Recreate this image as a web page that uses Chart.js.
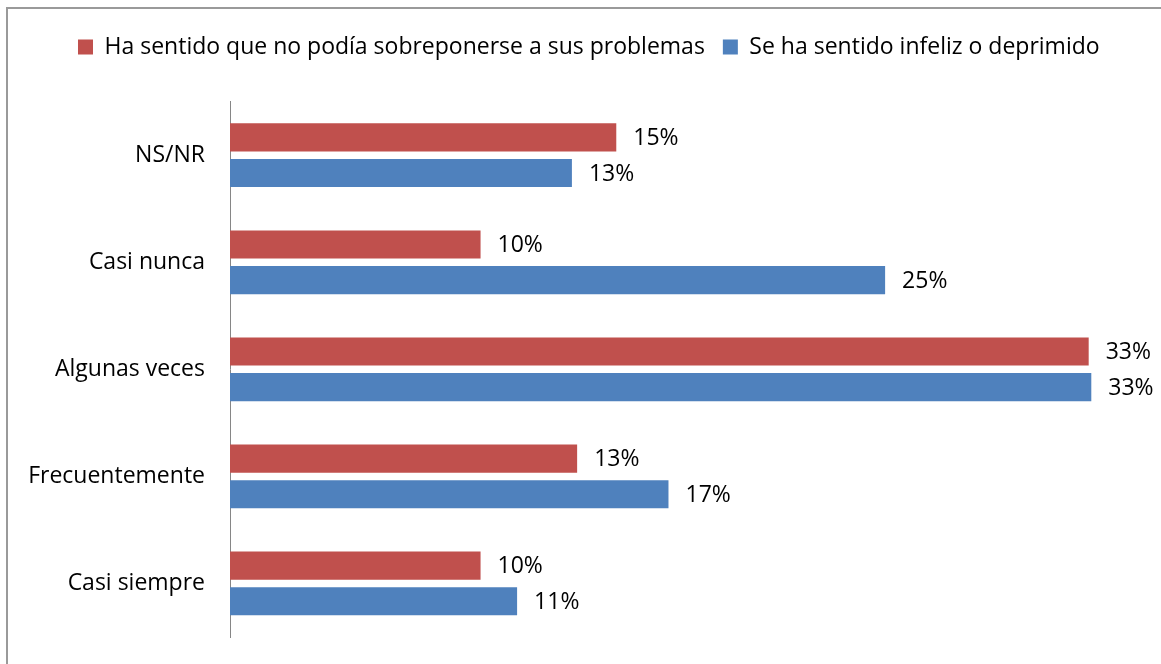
<!DOCTYPE html>
<html>
<head>
<meta charset="utf-8">
<style>
  html, body { margin: 0; padding: 0; background: #fff; overflow: hidden; }
  #wrap {
    position: absolute; left: 6px; top: 7px;
    border-left: 2px solid #9a9a9a; border-top: 2px solid #9a9a9a;
    width: 1164px; height: 655px;
  }
  canvas { display: block; }
</style>
<script src="https://cdn.jsdelivr.net/npm/chart.js@4/dist/chart.umd.min.js"></script>
</head>
<body>
<div id="wrap"><canvas id="chart" width="1164" height="655"></canvas></div>
<script>
// datos
const categories = ['NS/NR', 'Casi nunca', 'Algunas veces', 'Frecuentemente', 'Casi siempre'];
const sobreponerse = [14.8, 9.6, 32.9, 13.3, 9.6];
const infeliz = [13.1, 25.1, 33.0, 16.8, 11.0];
const seriesNames = ['Ha sentido que no podía sobreponerse a sus problemas', 'Se ha sentido infeliz o deprimido'];

const FONT = "'Open Sans', sans-serif";
Chart.defaults.color = '#000';
Chart.defaults.font.family = FONT;
Chart.defaults.font.size = 23;

// etiquetas de valor al final de cada barra
const valueLabels = {
  id: 'valueLabels',
  afterDatasetsDraw(chart) {
    const ctx = chart.ctx;
    ctx.save();
    ctx.font = '23px ' + FONT;
    ctx.fillStyle = '#000';
    ctx.textAlign = 'left';
    ctx.textBaseline = 'middle';
    chart.data.datasets.forEach((ds, i) => {
      chart.getDatasetMeta(i).data.forEach((bar, j) => {
        ctx.fillText(Math.round(ds.data[j]) + '%', bar.x + 17, bar.y + 1);
      });
    });
    ctx.restore();
  }
};

new Chart(document.getElementById('chart'), {
  type: 'bar',
  data: {
    labels: categories,
    datasets: [{
      label: seriesNames[0],
      data: sobreponerse,
      backgroundColor: '#C0504D',
    }, {
      label: seriesNames[1],
      data: infeliz,
      backgroundColor: '#4F81BD',
    }],
  },
  options: {
    indexAxis: 'y',
    responsive: false,
    animation: false,
    categoryPercentage: 0.665,
    barPercentage: 0.79,
    layout: { padding: { top: 8.5, right: 2.4, bottom: 27, left: 0 } },
    plugins: {
      legend: {
        position: 'top',
        labels: { boxWidth: 15, boxHeight: 15, padding: 18, color: '#000' },
      },
      tooltip: { enabled: false },
    },
    scales: {
      x: {
        position: 'top',
        min: 0,
        max: 36,
        ticks: { display: false },
        grid: { display: false },
        border: { display: false },
        afterFit: (s) => { s.height = 33.2; },
      },
      y: {
        // el espacio entre etiqueta y eje va en tickLength (marcas ocultas)
        grid: { display: false, drawTicks: true, tickLength: 25 },
        border: { display: true, color: '#868686', width: 1 },
        ticks: { padding: 0, color: '#000' },
        afterFit: (s) => { s.width = 222; },
      },
    },
  },
  plugins: [valueLabels],
});
</script>
</body>
</html>
